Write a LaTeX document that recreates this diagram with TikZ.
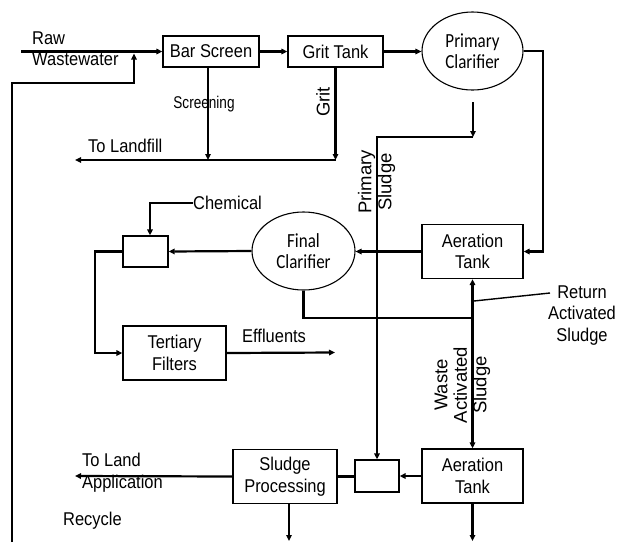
\documentclass[tikz,border=0pt]{standalone}
\usepackage{fontspec}
\setmainfont{Liberation Sans}[FakeStretch=0.89]
\newfontfamily\plainfont{Liberation Sans}
\newfontfamily\condfont{Liberation Sans}[FakeStretch=0.8]
\newfontfamily\calibfont{Carlito}[FakeStretch=0.85]
\usetikzlibrary{arrows.meta,shapes.geometric}
\newcommand\dgfont{\fontsize{18.5}{21.5}\selectfont}
\newcommand\dgsmall{\condfont\fontsize{17}{19}\selectfont}
\newcommand\dgrot{\plainfont\fontsize{18.5}{20}\selectfont}
\begin{document}
\begin{tikzpicture}[x=1pt,y=-1pt,
  box/.style={draw,line width=1.3pt,inner sep=0pt,align=center,font=\dgfont,rectangle},
  oval/.style={draw,line width=1.1pt,ellipse,inner sep=0pt,align=center,font=\calibfont\fontsize{20}{21}\selectfont},
  lbl/.style={inner sep=0pt,font=\dgfont},
  rlbl/.style={inner sep=0pt,font=\dgrot,rotate=90,align=center},
  flow/.style={line width=2.2pt},
  arr/.style={flow,-{Triangle[length=6pt,width=5.5pt]}},
  dbl/.style={flow,{Triangle[length=6pt,width=5.5pt]}-{Triangle[length=6pt,width=5.5pt]}},
  leader/.style={line width=1.4pt}]
\useasboundingbox[fill=white] (0,0) rectangle (618,542);

% nodes
\node[box,minimum width=96pt,minimum height=31pt] (bar) at (211,51.5) {Bar Screen};
\node[box,minimum width=95pt,minimum height=31pt] (grit) at (335.5,51.5) {Grit Tank};
\node[oval,minimum width=101pt,minimum height=78pt] (pc) at (472.5,51) {Primary\\Clarifier};
\node[box,minimum width=101pt,minimum height=54pt] (a1) at (472.5,251.5) {Aeration\\Tank};
\node[oval,minimum width=103pt,minimum height=78pt] (fc) at (303.5,251) {Final\\Clarifier};
\node[box,minimum width=45pt,minimum height=31pt] (chem) at (145.5,251.5) {};
\node[box,minimum width=103pt,minimum height=54pt] (tert) at (174.5,353) {Tertiary\\Filters};
\node[box,minimum width=101pt,minimum height=54pt] (a2) at (472.5,476) {Aeration\\Tank};
\node[box,minimum width=44pt,minimum height=32pt] (mix) at (377,476) {};
\node[box,minimum width=104pt,minimum height=54pt] (sp) at (285,476.5) {Sludge\\Processing};

% labels
\node[lbl,anchor=west,align=left] (raw) at (32,48.5) {Raw\\Wastewater};
\node[lbl,anchor=west] (landfill) at (88,146) {To Landfill};
\node[inner sep=0pt,font=\dgsmall] (scr) at (204,104) {Screening};
\node[rlbl] (gritl) at (323,102) {Grit};
\node[rlbl] (psl) at (376.5,182) {Primary\\Sludge};
\node[lbl,anchor=west] (chemlbl) at (193,203) {Chemical};
\node[lbl,anchor=west] (effl) at (242,336) {Effluents};
\node[lbl,align=center] (retl) at (582,315.5) {Return\\Activated\\Sludge};
\node[rlbl,font=\plainfont\fontsize{18.5}{19.5}\selectfont] (wasl) at (462.5,385) {Waste\\Activated\\Sludge};
\node[lbl,anchor=west,align=left] (landapp) at (82,472.5) {To Land\\Application};
\node[lbl,anchor=west] (recl) at (63,521) {Recycle};

% free ends
\coordinate (rawin) at (21,51.5);
\coordinate (lf) at (75,160);
\coordinate (rb) at (12,542);
\coordinate (rc) at (134,83);
\coordinate (c1) at (543,51);
\coordinate (ps1) at (473,102);
\coordinate (ps2) at (473,137);
\coordinate (tl) at (95,0);
\coordinate (eff) at (335,352.5);
\coordinate (ras) at (473,318);
\coordinate (rl) at (550,293);
\coordinate (tla) at (75,476);
\coordinate (bot) at (0,541);

% connectors
\draw[arr] (rawin) -- (bar.west);
\draw[arr] (bar.east) -- (grit.east -| grit.west);
\draw[arr] (grit.east) -- (grit.east -| pc.west);
\draw[arr] (pc.east) -- (c1) |- (a1.east);
\draw[arr] ([xshift=-3pt]bar.south) -- ([xshift=-3pt]bar.south |- lf);
\draw[arr] (grit.south) -- (grit.south |- lf);
\draw[arr] (grit.south |- lf) -- (lf);
\draw[arr] (rb) |- (rc) -- ([yshift=-2pt]rc |- bar.west);
\draw[arr] (ps1) -- (ps2);
\draw[arr] (ps2) -| (mix.north);
\draw[arr] (a1.west) -- (a1.west -| fc.east);
\draw[arr] (fc.west) -- (chem.east);
\draw[arr] (chemlbl.west) -| ([xshift=4.5pt]chem.north);
\draw[arr] (chem.west) -- (chem.west -| tl) |- (tert.west);
\draw[arr] (tert.east) -- (eff);
\draw[flow] (fc.south) |- (ras);
\draw[dbl] (a1.south) -- (a2.north);
\draw[leader] ([yshift=-22pt]a1.south) -- (rl);
\draw[arr] (a2.west) -- (mix.east);
\draw[flow,line width=3pt] (mix.west) -- (sp.east |- mix.west);
\draw[arr] (sp.west) -- (tla);
\draw[arr] ([xshift=4pt]sp.south) -- ([xshift=4pt]sp.south |- bot);
\draw[arr] (a2.south) -- (a2.south |- bot);
\end{tikzpicture}
\end{document}
